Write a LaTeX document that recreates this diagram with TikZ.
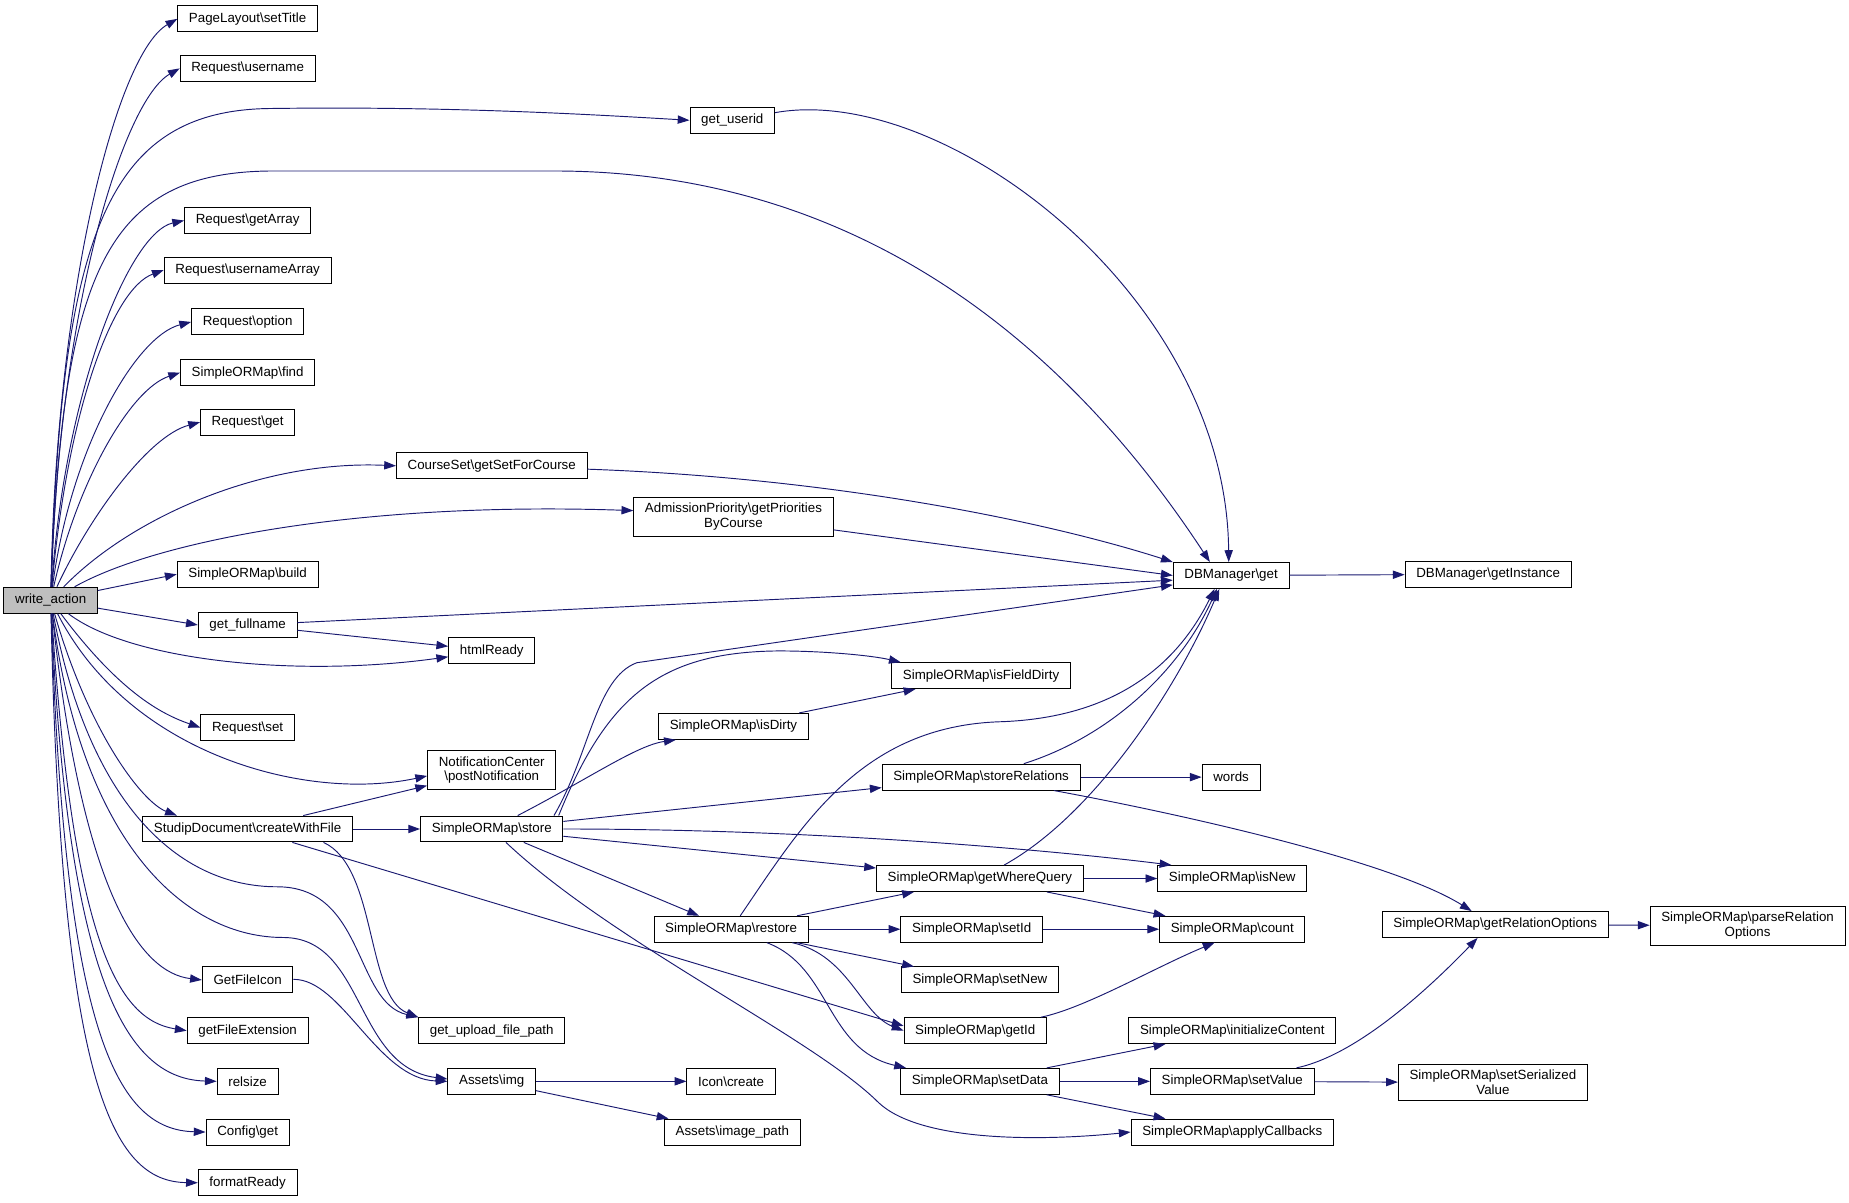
\documentclass[tikz,border=0pt]{standalone}
\usepackage{fontspec}
\setmainfont{Liberation Sans}
\usetikzlibrary{arrows.meta}
\definecolor{edgeblue}{HTML}{191970}
\newcommand{\bsl}{\textbackslash}
\tikzset{
  fn/.style={draw=black, fill=white, line width=0.8pt, minimum height=22pt,
    inner xsep=9.5pt, inner ysep=5pt, align=center},
  rootfn/.style={fn, fill=black!25},
  call/.style={draw=edgeblue, line width=0.8pt, -{Triangle[length=10pt,width=7pt]}},
}
\begin{document}
\begin{tikzpicture}[x=1pt, y=1pt, font=\fontsize{11.3}{12.5}\selectfont]
\useasboundingbox (0,0) rectangle (1568,-1020);
  % nodes
  \node[rootfn] (wa) at (43,-509) {write\_action};
  \node[fn] (setTitle) at (210,-16) {PageLayout\bsl setTitle};
  \node[fn] (username) at (210,-58) {Request\bsl username};
  \node[fn] (userid) at (621,-102) {get\_userid};
  \node[fn] (getArray) at (210,-187) {Request\bsl getArray};
  \node[fn] (usernameArr) at (210,-229) {Request\bsl usernameArray};
  \node[fn] (option) at (210,-273) {Request\bsl option};
  \node[fn] (find) at (210,-316) {SimpleORMap\bsl find};
  \node[fn] (reqGet) at (210,-358) {Request\bsl get};
  \node[fn] (setForCourse) at (417,-395) {CourseSet\bsl getSetForCourse};
  \node[fn] (prioByCourse) at (622,-438) {AdmissionPriority\bsl getPriorities\\ByCourse};
  \node[fn] (build) at (210,-487) {SimpleORMap\bsl build};
  \node[fn] (dbGet) at (1044,-488) {DBManager\bsl get};
  \node[fn] (dbInstance) at (1262,-487) {DBManager\bsl getInstance};
  \node[fn] (fullname) at (210,-530) {get\_fullname};
  \node[fn] (htmlReady) at (417,-552) {htmlReady};
  \node[fn] (isFieldDirty) at (832,-573) {SimpleORMap\bsl isFieldDirty};
  \node[fn] (isDirty) at (622,-616) {SimpleORMap\bsl isDirty};
  \node[fn] (reqSet) at (210,-617) {Request\bsl set};
  \node[fn] (postNotif) at (417,-653) {NotificationCenter\\\bsl postNotification};
  \node[fn] (storeRel) at (832,-659) {SimpleORMap\bsl storeRelations};
  \node[fn] (words) at (1044,-659) {words};
  \node[fn] (createFile) at (210,-703) {StudipDocument\bsl createWithFile};
  \node[fn] (store) at (417,-703) {SimpleORMap\bsl store};
  \node[fn] (whereQuery) at (831,-745) {SimpleORMap\bsl getWhereQuery};
  \node[fn] (isNew) at (1045,-745) {SimpleORMap\bsl isNew};
  \node[fn] (restore) at (620,-788) {SimpleORMap\bsl restore};
  \node[fn] (setId) at (824,-788) {SimpleORMap\bsl setId};
  \node[fn] (count) at (1045,-788) {SimpleORMap\bsl count};
  \node[fn] (relOptions) at (1268,-784) {SimpleORMap\bsl getRelationOptions};
  \node[fn] (parseRelOpt) at (1482,-785) {SimpleORMap\bsl parseRelation\\Options};
  \node[fn] (setNew) at (831,-831) {SimpleORMap\bsl setNew};
  \node[fn] (fileIcon) at (210,-831) {GetFileIcon};
  \node[fn] (getId) at (827,-874) {SimpleORMap\bsl getId};
  \node[fn] (uploadPath) at (417,-874) {get\_upload\_file\_path};
  \node[fn] (fileExt) at (210,-874) {getFileExtension};
  \node[fn] (initContent) at (1045,-874) {SimpleORMap\bsl initializeContent};
  \node[fn] (img) at (417,-917) {Assets\bsl img};
  \node[fn] (iconCreate) at (620,-917) {Icon\bsl create};
  \node[fn] (setData) at (831,-917) {SimpleORMap\bsl setData};
  \node[fn] (setValue) at (1045,-917) {SimpleORMap\bsl setValue};
  \node[fn] (setSerialized) at (1266,-918) {SimpleORMap\bsl setSerialized\\Value};
  \node[fn] (relsize) at (210,-917) {relsize};
  \node[fn] (imagePath) at (621,-960) {Assets\bsl image\_path};
  \node[fn] (applyCb) at (1045,-960) {SimpleORMap\bsl applyCallbacks};
  \node[fn] (configGet) at (210,-960) {Config\bsl get};
  \node[fn] (formatReady) at (210,-1003) {formatReady};

  % calls of write_action
  \draw[call] (wa) .. controls (48,-240) and (100,-45) .. (setTitle.west);
  \draw[call] (wa) .. controls (50,-260) and (105,-85) .. (username.west);
  \draw[call] (wa) .. controls (52,-200) and (90,-93) .. (230,-92) .. controls (380,-90) and (500,-97) .. (userid.west);
  \draw[call] (wa) .. controls (53,-230) and (90,-146) .. (230,-145) -- (470,-145) .. controls (760,-145) and (930,-330) .. ([xshift=-18]dbGet.north);
  \draw[call] (wa) .. controls (55,-330) and (110,-197) .. (getArray.west);
  \draw[call] (wa) .. controls (57,-350) and (95,-245) .. (usernameArr.west);
  \draw[call] (wa) .. controls (60,-380) and (115,-285) .. (option.west);
  \draw[call] (wa) .. controls (65,-410) and (110,-330) .. (find.west);
  \draw[call] (wa) .. controls (75,-440) and (125,-370) .. (reqGet.west);
  \draw[call] (wa) .. controls (110,-440) and (220,-390) .. (setForCourse.west);
  \draw[call] (wa) .. controls (130,-460) and (300,-425) .. ([yshift=5]prioByCourse.west);
  \draw[call] (wa) -- (build.west);
  \draw[call] (wa) -- (fullname.west);
  \draw[call] (wa) .. controls (110,-560) and (250,-575) .. ([yshift=-5]htmlReady.west);
  \draw[call] (wa) .. controls (100,-585) and (135,-605) .. (reqSet.west);
  \draw[call] (wa) .. controls (110,-640) and (260,-680) .. ([yshift=-5]postNotif.west);
  \draw[call] (wa) .. controls (75,-620) and (120,-680) .. ([xshift=-60]createFile.north);
  \draw[call] (wa) .. controls (75,-680) and (150,-752) .. (235,-752) .. controls (310,-752) and (300,-850) .. (uploadPath.north west);
  \draw[call] (wa) .. controls (70,-720) and (160,-795) .. (240,-795) .. controls (310,-795) and (300,-905) .. ([yshift=2]img.west);
  \draw[call] (wa) .. controls (70,-760) and (120,-825) .. (fileIcon.west);
  \draw[call] (wa) .. controls (62,-800) and (100,-865) .. (fileExt.west);
  \draw[call] (wa) .. controls (58,-840) and (110,-915) .. (relsize.west);
  \draw[call] (wa) .. controls (55,-880) and (100,-958) .. (configGet.west);
  \draw[call] (wa) .. controls (52,-920) and (95,-1002) .. (formatReady.west);

  % DBManager
  \draw[call] (userid) .. controls (800,-70) and (1040,-250) .. ([xshift=-2]dbGet.north);
  \draw[call] (setForCourse) .. controls (700,-405) and (880,-440) .. (dbGet.north west);
  \draw[call] (prioByCourse) -- (dbGet.west);
  \draw[call] (fullname) -- ([yshift=-4]dbGet.west);
  \draw[call] ([xshift=-8]store.north east) .. controls (500,-640) and (505,-575) .. (540,-562) -- ([yshift=-8]dbGet.west);
  \draw[call] (dbGet) -- (dbInstance);
  \draw[call] (fullname) -- (htmlReady);

  % createWithFile
  \draw[call] (createFile) -- (postNotif);
  \draw[call] (createFile) -- (store);
  \draw[call] ([xshift=-25]createFile.south east) .. controls (320,-735) and (310,-845) .. (uploadPath.north west);
  \draw[call] (createFile) -- ([yshift=4]getId.west);

  % store
  \draw[call] ([xshift=-4]store.north east) .. controls (515,-590) and (560,-553) .. (660,-552) .. controls (700,-552) and (740,-556) .. ([xshift=8]isFieldDirty.north west);
  \draw[call] (store) .. controls (500,-660) and (540,-632) .. ([xshift=15]isDirty.south west);
  \draw[call] (isDirty) -- (isFieldDirty);
  \draw[call] (store) -- (storeRel);
  \draw[call] (store.east) .. controls (700,-703) and (900,-722) .. ([xshift=12]isNew.north west);
  \draw[call] (store) -- (whereQuery);
  \draw[call] (store) -- (restore);
  \draw[call] (store) .. controls (520,-800) and (690,-880) .. (745,-935) .. controls (780,-968) and (880,-968) .. (applyCb.west);

  % storeRelations, getWhereQuery, restore
  \draw[call] (storeRel) .. controls (940,-625) and (1000,-570) .. ([xshift=-12]dbGet.south);
  \draw[call] (storeRel) -- (words);
  \draw[call] (storeRel) .. controls (1000,-690) and (1180,-730) .. ([xshift=-20]relOptions.north);
  \draw[call] (whereQuery) .. controls (930,-690) and (1000,-580) .. ([xshift=-10]dbGet.south);
  \draw[call] (whereQuery) -- (isNew);
  \draw[call] (whereQuery) -- (count);
  \draw[call] (restore) .. controls (680,-700) and (730,-615) .. (850,-612) .. controls (950,-608) and (1000,-560) .. ([xshift=-14]dbGet.south);
  \draw[call] (restore) -- (whereQuery);
  \draw[call] (restore) -- (setId);
  \draw[call] (restore) -- (setNew);
  \draw[call] (restore) .. controls (720,-810) and (730,-860) .. (getId.west);
  \draw[call] (restore) .. controls (705,-820) and (700,-890) .. ([xshift=5]setData.north west);
  \draw[call] (setId) -- (count);
  \draw[call] (getId) .. controls (920,-855) and (980,-820) .. ([xshift=-15]count.south);

  % setData, setValue
  \draw[call] (setData) -- (initContent);
  \draw[call] (setData) -- (setValue);
  \draw[call] (setData) -- (applyCb);
  \draw[call] (setValue) .. controls (1150,-895) and (1210,-840) .. ([xshift=-15]relOptions.south);
  \draw[call] (setValue) -- (setSerialized);
  \draw[call] (relOptions) -- (parseRelOpt);

  % icons
  \draw[call] (fileIcon) .. controls (290,-830) and (320,-915) .. (img.west);
  \draw[call] (img) -- (iconCreate);
  \draw[call] (img) -- (imagePath);
\end{tikzpicture}
\end{document}
